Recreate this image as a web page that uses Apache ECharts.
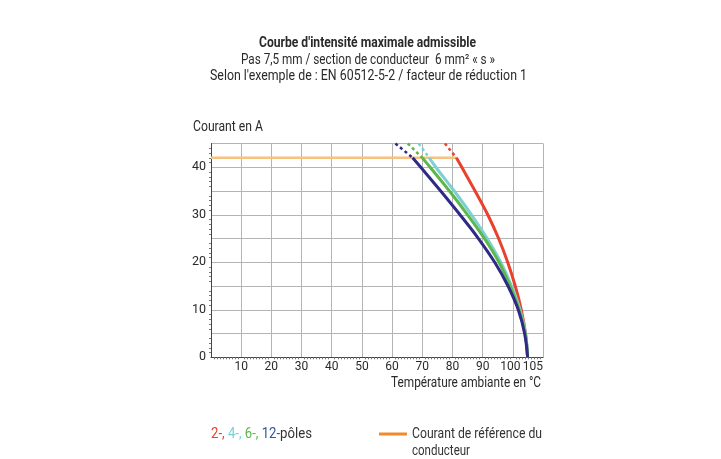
<!DOCTYPE html>
<html><head><meta charset="utf-8">
<script src="https://cdn.jsdelivr.net/npm/echarts@6/dist/echarts.min.js"></script>
<style>html,body{margin:0;padding:0;background:#fff}#c{width:721px;height:459px}</style>
</head><body><div id="c"></div>
<script>
const FONT = "Roboto, 'Liberation Sans', sans-serif";
const titleLines = ["Courbe d'intensité maximale admissible",
  "Pas 7,5 mm / section de conducteur  6 mm² « s »",
  "Selon l'exemple de : EN 60512-5-2 / facteur de réduction 1"];
const yAxisName = "Courant en A";
const xAxisName = "Température ambiante en °C";
const xTickLabels = {10:'10',20:'20',30:'30',40:'40',50:'50',60:'60',70:'70',80:'80',90:'90',100:'100'};
const xEndLabel = {110:'105'};
const yTickLabels = {0:'0',10:'10',20:'20',30:'30',40:'40'};
const legendPoles = ['2-,', '4-,', '6-,', '12-', 'pôles'];
const refLegendLines = ["Courant de référence du", "conducteur"];
const refLine = [[0,42],[81.3,42]];
// dashed extensions above the reference current
const dash2 = [[77.5,45],[81.3,42]];
const dash4 = [[68.8,45],[72.3,42]];
const dash6 = [[65.2,45],[70.0,42]];
const dash12 = [[61.1,45],[66.8,42]];
// solid derating curves (temperature °C, current A)
const curve2 = [[81.3,42],[83.1,40],[87.5,35],[91.7,30],[95.3,25],[98.3,20],[100.8,15],[102.8,10],[104.2,5],[104.9,0]];
const curve4 = [[72.3,42],[74.5,40],[80.6,35],[86.3,30],[91.5,25],[96.0,20],[99.6,15],[102.4,10],[104.2,5],[104.9,0]];
const curve6 = [[70.0,42],[72.6,40],[79.0,35],[85.0,30],[90.6,25],[95.4,20],[99.1,15],[102.1,10],[104.1,5],[104.9,0]];
const curve12 = [[66.8,42],[69.5,40],[76.1,35],[82.5,30],[88.6,25],[94.0,20],[98.4,15],[101.8,10],[103.9,5],[104.9,0]];
const colors = {p2:'#e8412c', p4:'#7ecfd3', p6:'#5cb84a', p12:'#2f2a86', p12txt:'#2f55a0', ref:'#f6c27d', refLegend:'#f08a2e', text:'#2a2a2a'};

const ctx = document.createElement('canvas').getContext('2d');
function fitScale(text, font, width){ ctx.font = font; return width / ctx.measureText(text).width; }
// text placed at anchor (x,y) with horizontal compression to a target width
function label(text, x, y, width, opts){
  opts = opts || {};
  const font = (opts.weight||'normal') + ' ' + (opts.size||14) + 'px ' + FONT;
  return {type:'text', x, y, scaleX: fitScale(text, font, width), silent:true,
    style:{text, font, fill: opts.fill||colors.text, textAlign: opts.align||'left', textVerticalAlign:'middle'}};
}

const chart = echarts.init(document.getElementById('c'), null, {renderer:'canvas'});
function solid(data, color){return {type:'line', data, smooth:0.4, symbol:'none', lineStyle:{color, width:3}, z:3};}
function dashed(data, color){return {type:'line', data, symbol:'none', lineStyle:{color, width:2.5, type:[3,3]}, z:3};}

// legend pieces for the pole counts
const poleColors = [colors.p2, colors.p4, colors.p6, colors.p12txt, '#333'];
const poleFont = '14px ' + FONT;
const polesText = legendPoles.join(' ').replace('12- pôles','12-pôles');
const poleScale = fitScale(polesText, poleFont, 101);
let px = 211; const poleGraphics = [];
legendPoles.forEach((t,i)=>{
  poleGraphics.push({type:'text', x:px, y:434, scaleX:poleScale, silent:true,
    style:{text:t, font:poleFont, fill:poleColors[i], textVerticalAlign:'middle'}});
  ctx.font = poleFont;
  px += (ctx.measureText(t).width + (i<3 ? ctx.measureText(' ').width : 0)) * poleScale;
});

const xLabelBase = {fontFamily:FONT, fontSize:12, color:colors.text, margin:4, interval:0,
  rich:{n:{fontFamily:FONT, fontSize:12, color:colors.text, padding:[0,5,0,0]}}};
chart.setOption({
  animation:false,
  textStyle:{fontFamily:FONT},
  grid:{left:211, right:178, top:143.5, bottom:101.7, containLabel:false},
  xAxis:[{type:'value', min:0, max:110, interval:10, position:'bottom',
    axisLine:{show:true, lineStyle:{color:'#444', width:1}},
    axisTick:{show:false},
    minorTick:{show:true, splitNumber:10, length:2, lineStyle:{color:'#777'}},
    splitLine:{show:true, lineStyle:{color:'#b4b4b4', width:1}},
    axisLabel:Object.assign({formatter:v=>v===100 ? '{n|'+xTickLabels[v]+'}' : (xTickLabels[v]||'')}, xLabelBase)},
   {type:'value', min:0, max:110, interval:10, position:'bottom', offset:0,
    axisLine:{show:false}, axisTick:{show:false}, splitLine:{show:false},
    axisLabel:Object.assign({formatter:v=>xEndLabel[v]||'', showMaxLabel:true, alignMaxLabel:'right'}, xLabelBase)}],
  yAxis:{type:'value', min:0, max:45, interval:5,
    axisLine:{show:true, lineStyle:{color:'#444', width:1}},
    axisTick:{show:false},
    minorTick:{show:true, splitNumber:5, length:2, lineStyle:{color:'#777'}},
    splitLine:{show:true, lineStyle:{color:'#b4b4b4', width:1}},
    axisLabel:{formatter:v=>yTickLabels[v]||'', fontFamily:FONT, fontSize:12.5, color:colors.text, margin:5}},
  graphic:[
    label(titleLines[0], 367.5, 43, 217, {align:'center', weight:'bold'}),
    label(titleLines[1], 368, 60, 254, {align:'center'}),
    label(titleLines[2], 368.5, 76, 317, {align:'center'}),
    label(yAxisName, 193, 127, 70),
    label(xAxisName, 391, 383, 150),
    ...poleGraphics,
    {type:'line', silent:true, shape:{x1:379, y1:434, x2:407, y2:434}, style:{stroke:colors.refLegend, lineWidth:3}},
    label(refLegendLines[0], 412, 434, 130, {fill:'#333'}),
    label(refLegendLines[1], 412, 451, 58, {fill:'#333'})
  ],
  series:[
    {type:'line', data:refLine, symbol:'none', lineStyle:{color:colors.ref, width:2.5}, z:2},
    dashed(dash2, colors.p2), dashed(dash4, colors.p4), dashed(dash6, colors.p6), dashed(dash12, colors.p12),
    solid(curve2, colors.p2), solid(curve4, colors.p4), solid(curve6, colors.p6), solid(curve12, colors.p12)
  ]
});
</script></body></html>
